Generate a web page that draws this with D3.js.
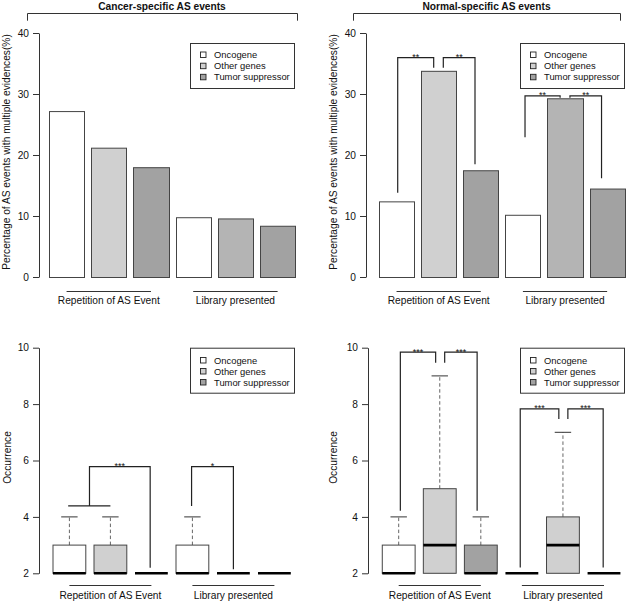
<!DOCTYPE html>
<html>
<head>
<meta charset="utf-8">
<script src="https://cdn.jsdelivr.net/npm/d3@7/dist/d3.min.js"></script>
<style>
  html, body { margin: 0; padding: 0; background: #fff; }
  svg { display: block; }
  text { font-family: "Liberation Sans", Arial, Helvetica, sans-serif; font-size: 10.2px; fill: #111; }
</style>
</head>
<body>
<svg id="chart" width="626" height="603"></svg>
<script>
// ---------------- DATA ----------------
const categories = ["Oncogene", "Other genes", "Tumor suppressor"];
const groups = ["Repetition of AS Event", "Library presented"];
const panelTitles = ["Cancer-specific AS events", "Normal-specific AS events"];
const pctLabel = "Percentage of AS events with multiple evidences(%)";
const occLabel = "Occurrence";

const pctTicks = [0, 10, 20, 30, 40];
const occTicks = [2, 4, 6, 8, 10];

// percentages [group][category]
const cancerPct = [[27.2, 21.2, 18.0], [9.8, 9.6, 8.4]];
const normalPct = [[12.4, 33.8, 17.5], [10.2, 29.3, 14.5]];

// box stats [lowWhisker, q1, median, q3, highWhisker] per [group][category]
const cancerOcc = [
  [[2, 2, 2, 3, 4], [2, 2, 2, 3, 4], [2, 2, 2, 2, 2]],
  [[2, 2, 2, 3, 4], [2, 2, 2, 2, 2], [2, 2, 2, 2, 2]]
];
const normalOcc = [
  [[2, 2, 2, 3, 4], [2, 2, 3, 5, 9], [2, 2, 2, 3, 4]],
  [[2, 2, 2, 2, 2], [2, 2, 3, 4, 7], [2, 2, 2, 2, 2]]
];

// significance brackets (x in plot units, y in data units)
const cancerPctSig = [];
const normalPctSig = [
  { pts: [[0.733, 13.8], [0.733, 35.95], [1.758, 35.95], [1.758, 34.3]], label: "**" },
  { pts: [[2.032, 34.3], [2.032, 35.95], [2.935, 35.95], [2.935, 18.5]], label: "**" },
  { pts: [[4.36, 22.9], [4.36, 29.7], [5.36, 29.7], [5.36, 29.4]], label: "**" },
  { pts: [[5.64, 29.4], [5.64, 29.7], [6.54, 29.7], [6.54, 16.2]], label: "**" }
];
const cancerOccSig = [
  { pts: [[0.97, 4.39], [2.0, 4.39]], label: "" },
  { pts: [[1.49, 4.39], [1.49, 5.78], [2.97, 5.78], [2.97, 2.2]], label: "***" },
  { pts: [[3.98, 4.39], [3.98, 5.78], [5.0, 5.78], [5.0, 2.14]], label: "*" }
];
const normalOccSig = [
  { pts: [[1.04, 4.22], [1.04, 9.84], [1.90, 9.84], [1.90, 9.47]], label: "***" },
  { pts: [[2.12, 9.47], [2.12, 9.84], [2.91, 9.84], [2.91, 4.22]], label: "***" },
  { pts: [[3.96, 2.21], [3.96, 7.83], [4.90, 7.83], [4.90, 7.47]], label: "***" },
  { pts: [[5.12, 7.47], [5.12, 7.83], [5.98, 7.83], [5.98, 2.21]], label: "***" }
];

// ---------------- STYLE ----------------
const catFill = ["#ffffff", "#d0d0d0", "#a2a2a2"];
const barFillLib = ["#ffffff", "#b4b4b4", "#a2a2a2"];
const lineCol = "#333";

const svg = d3.select("#chart");
svg.append("rect").attr("width", 626).attr("height", 603).attr("fill", "#fff");

function yAxis(g, y, axisX, ticks, labelX, label) {
  const ax = g.append("g").attr("transform", `translate(${axisX},0)`)
    .call(d3.axisLeft(y).tickValues(ticks).tickSize(6).tickPadding(4).tickSizeOuter(0));
  ax.select(".domain").attr("stroke", lineCol);
  ax.selectAll(".tick line").attr("stroke", lineCol);
  ax.selectAll(".tick text").style("font-size", "10.2px").attr("fill", "#111");
  const [r0, r1] = y.range();
  g.append("text")
    .attr("transform", `translate(${labelX},${(r0 + r1) / 2 - 3}) rotate(-90)`)
    .attr("text-anchor", "middle").attr("dominant-baseline", "central")
    .text(label);
}

function legend(g, x0, x1, y0, y1, itemYs) {
  g.append("rect").attr("x", x0 + 0.5).attr("y", y0 + 0.5).attr("width", x1 - x0).attr("height", y1 - y0)
    .attr("fill", "#fff").attr("stroke", lineCol);
  categories.forEach((c, i) => {
    g.append("rect").attr("x", x0 + 10.5).attr("y", itemYs[i] - 2.5).attr("width", 5.5).attr("height", 5.5)
      .attr("fill", catFill[i]).attr("stroke", "#222").attr("stroke-width", 0.9);
    g.append("text").attr("x", x0 + 24).attr("y", itemYs[i]).attr("dominant-baseline", "central")
      .style("font-size", "9.4px").text(c);
  });
}

function groupLabels(g, x, centers, lineY, textY) {
  groups.forEach((name, gi) => {
    const a = x(centers[gi][0]), b = x(centers[gi][1]);
    g.append("line").attr("x1", a).attr("x2", b).attr("y1", lineY + 0.5).attr("y2", lineY + 0.5)
      .attr("stroke", lineCol);
    g.append("text").attr("x", (a + b) / 2).attr("y", textY).attr("text-anchor", "middle").text(name);
  });
}

function sigs(g, x, y, list) {
  const line = d3.line().x(d => x(d[0])).y(d => y(d[1]));
  list.forEach(s => {
    g.append("path").attr("d", line(s.pts)).attr("fill", "none").attr("stroke", "#222").attr("stroke-width", 1.2);
    if (s.label) {
      const mx = (x(s.pts[1][0]) + x(s.pts[2][0])) / 2;
      g.append("text").attr("x", mx).attr("y", y(s.pts[1][1]) + 2.5).attr("text-anchor", "middle")
        .style("font-size", "9px").text(s.label);
    }
  });
}

function titleBracket(g, title, x0, x1) {
  g.append("text").attr("x", (x0 + x1) / 2).attr("y", 9.5).attr("text-anchor", "middle")
    .style("font-weight", "bold").text(title);
  g.append("path").attr("d", `M${x0 + 0.5},20.7V13.5H${x1 + 0.5}V20.7`).attr("fill", "none").attr("stroke", lineCol);
}

function barPanel(vals, sigList, p) {
  const g = svg.append("g");
  const x = d3.scaleLinear().domain([0.2, 7.2]).range([p.x0, p.x0 + 7 * p.unit]);
  const y = d3.scaleLinear().domain([0, 40]).range([277, 33]);
  titleBracket(g, p.title, p.bx0, p.bx1);
  yAxis(g, y, p.axisX, pctTicks, p.labelX, pctLabel);
  const flat = [];
  vals.forEach((grp, gi) => grp.forEach((v, ci) => flat.push({ v, gi, ci, idx: gi * 3 + ci })));
  g.selectAll("rect.bar").data(flat).join("rect").attr("class", "bar")
    .attr("x", d => Math.round(x(0.2 + 1.2 * d.idx)) + 0.5)
    .attr("width", d => Math.round(x(1.2 + 1.2 * d.idx)) - Math.round(x(0.2 + 1.2 * d.idx)))
    .attr("y", d => y(d.v) + 0.5)
    .attr("height", d => y(0) - y(d.v))
    .attr("fill", d => d.gi === 0 ? catFill[d.ci] : barFillLib[d.ci])
    .attr("stroke", "#444");
  sigs(g, x, y, sigList);
  legend(g, p.lx0, p.lx1, 43, 88, [54.5, 65.7, 76.8]);
  groupLabels(g, x, [[0.7, 3.1], [4.3, 6.7]], 291, 303.5);
}

function boxPanel(vals, sigList, p) {
  const g = svg.append("g");
  const x = d3.scaleLinear().domain([1, 6]).range([p.c0, p.c0 + 5 * p.unit]);
  const y = d3.scaleLinear().domain([2, 10]).range([573.3, 347.7]);
  yAxis(g, y, p.axisX, occTicks, p.labelX, occLabel);
  const flat = [];
  vals.forEach((grp, gi) => grp.forEach((s, ci) => flat.push({ s, gi, ci, pos: gi * 3 + ci + 1 })));
  flat.forEach(d => {
    const [lo, q1, med, q3, hi] = d.s;
    const cx = x(d.pos), hw = 0.4 * p.unit, cw = 0.2 * p.unit;
    if (hi > q3) {
      g.append("line").attr("x1", cx).attr("x2", cx).attr("y1", y(q3)).attr("y2", y(hi))
        .attr("stroke", "#666").attr("stroke-dasharray", "3.5,2.5");
      g.append("line").attr("x1", cx - cw).attr("x2", cx + cw).attr("y1", y(hi)).attr("y2", y(hi))
        .attr("stroke", "#333");
    }
    if (lo < q1) {
      g.append("line").attr("x1", cx).attr("x2", cx).attr("y1", y(q1)).attr("y2", y(lo))
        .attr("stroke", "#666").attr("stroke-dasharray", "3.5,2.5");
    }
    if (q3 > q1) {
      g.append("rect").attr("x", cx - hw).attr("width", 2 * hw).attr("y", y(q3)).attr("height", y(q1) - y(q3))
        .attr("fill", catFill[d.ci]).attr("stroke", "#444");
    }
    g.append("line").attr("x1", cx - hw).attr("x2", cx + hw).attr("y1", y(med)).attr("y2", y(med))
      .attr("stroke", "#000").attr("stroke-width", 2.6);
  });
  sigs(g, x, y, sigList);
  legend(g, p.lx0, p.lx1, 347.7, 392.7, [360, 371, 382]);
  groupLabels(g, x, [[1, 3], [4, 6]], 585, 599);
}

barPanel(cancerPct, cancerPctSig, { x0: 49, unit: 35.17, axisX: 39, labelX: 6.5, title: panelTitles[0], bx0: 27, bx1: 297, lx0: 190, lx1: 294 });
barPanel(normalPct, normalPctSig, { x0: 379, unit: 35.1, axisX: 366, labelX: 333.5, title: panelTitles[1], bx0: 353, bx1: 620, lx0: 520, lx1: 624 });
boxPanel(cancerOcc, cancerOccSig, { c0: 69.4, unit: 41.0, axisX: 39, labelX: 7, lx0: 190, lx1: 294 });
boxPanel(normalOcc, normalOccSig, { c0: 398.7, unit: 41.06, axisX: 368, labelX: 333, lx0: 520, lx1: 624 });
</script>
</body>
</html>
